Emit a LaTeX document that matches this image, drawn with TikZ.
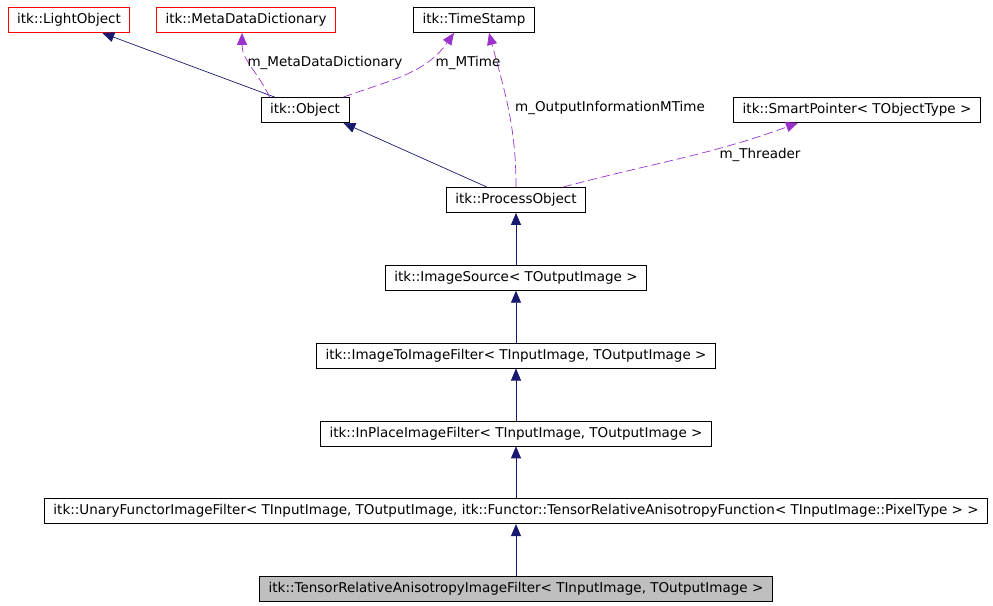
\documentclass[tikz,border=0pt]{standalone}
\usepackage{fontspec}
\setmainfont{DejaVu Sans}
\usepackage{tikz}
\usetikzlibrary{arrows.meta,positioning}

\definecolor{edgeblue}{HTML}{191970}
\definecolor{edgeorchid}{HTML}{9A32CD}
\definecolor{curgray}{HTML}{BFBFBF}

\begin{document}
\begin{tikzpicture}[
		x=1pt, y=-1pt,
		cls/.style={rectangle, draw, line width=0.8pt, minimum height=25pt,
			inner xsep=9pt, inner ysep=0pt, font=\fontsize{13.5}{15}\selectfont},
		extcls/.style={cls, draw=red},
		inherit/.style={-{Triangle[length=12pt,width=10pt]}, draw=edgeblue, line width=0.7pt},
		uses/.style={-{Triangle[length=12pt,width=10pt]}, draw=edgeorchid,
			line width=0.7pt, dash pattern=on 9pt off 4pt},
		lbl/.style={font=\fontsize{13.5}{15}\selectfont, inner sep=1pt},
		node distance=52pt
		]
		\useasboundingbox (0,0) rectangle (993,605);
		
		\node[extcls] (light) at (69,20) {itk::LightObject};
		\node[extcls] (meta) at (246,20) {itk::MetaDataDictionary};
		\node[cls] (stamp) at (474,20) {itk::TimeStamp};
		\node[cls] (obj) at (305,110) {itk::Object};
		\node[cls] (smart) at (857,110) {itk::SmartPointer< TObjectType >};
		\node[cls] (proc) at (516,200) {itk::ProcessObject};
		
		\node[cls, below=of proc] (src) {itk::ImageSource< TOutputImage >};
		\node[cls, below=of src] (i2i) {itk::ImageToImageFilter< TInputImage, TOutputImage >};
		\node[cls, below=of i2i] (inplace) {itk::InPlaceImageFilter< TInputImage, TOutputImage >};
		\node[cls, below=of inplace] (unary) {itk::UnaryFunctorImageFilter< TInputImage, TOutputImage, itk::Functor::TensorRelativeAnisotropyFunction< TInputImage::PixelType > >};
		\node[cls, fill=curgray, below=of unary] (tensor) {itk::TensorRelativeAnisotropyImageFilter< TInputImage, TOutputImage >};
		
		\draw[inherit] ([xshift=14pt]obj.north west) -- ([xshift=-28pt]light.south east);
		\draw[uses] ([xshift=9pt]obj.north west) to[out=115,in=-90] ([xshift=-4pt]meta.south);
		\draw[uses] ([xshift=-6pt]obj.north east) to[out=20,in=-125] ([xshift=-20pt]stamp.south);
		\draw[inherit] ([xshift=-29pt]proc.north) -- ([xshift=-6pt]obj.south east);
		\draw[uses] (proc.north) to[out=90,in=-75] ([xshift=15pt]stamp.south);
		\draw[uses] ([xshift=47pt]proc.north) to[out=15,in=-160] ([xshift=-59pt]smart.south);
		
		\node[lbl] (lmeta) at (325,63) {m\_MetaDataDictionary};
		\node[lbl] (lmtime) at (468,63) {m\_MTime};
		\node[lbl] (lout) at (610,108) {m\_OutputInformationMTime};
		\node[lbl] (lthr) at (760,155) {m\_Threader};
		
		\draw[inherit] (src) -- (proc);
		\draw[inherit] (i2i) -- (src);
		\draw[inherit] (inplace) -- (i2i);
		\draw[inherit] (unary) -- (inplace);
		\draw[inherit] (tensor) -- (unary);
\end{tikzpicture}
\end{document}
